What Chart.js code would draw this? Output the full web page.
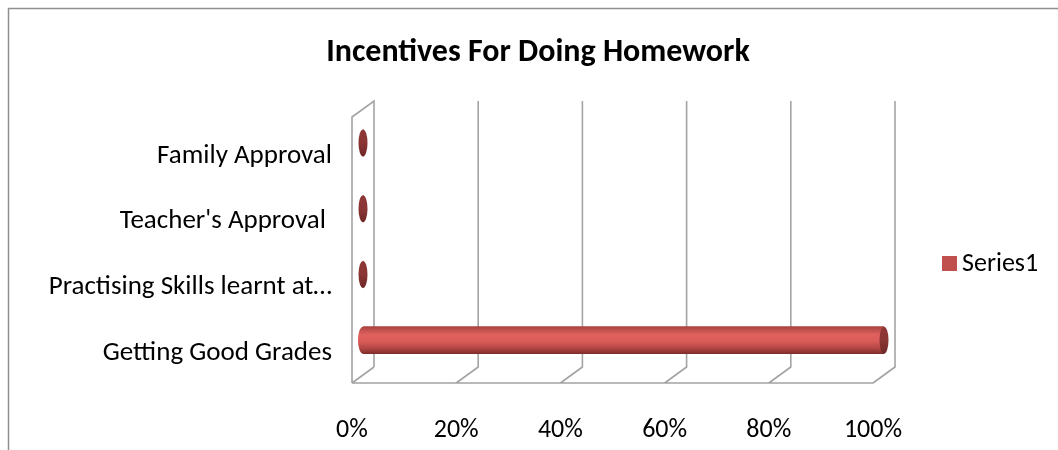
<!DOCTYPE html>
<html>
<head>
<meta charset="utf-8">
<script src="https://cdn.jsdelivr.net/npm/chart.js@4.4.1/dist/chart.umd.min.js"></script>
<style>
  html, body { margin: 0; padding: 0; background: #fff; }
  #wrap { width: 1058px; height: 450px; }
</style>
</head>
<body>
<div id="wrap"><canvas id="myChart"></canvas></div>
<script>
const chartTitle = "Incentives For Doing Homework";
const categories = ["Getting Good Grades", "Practising Skills learnt at…", "Teacher's Approval ", "Family Approval"];
const series1 = [1, 0, 0, 0];
const tickValues = [0, 0.2, 0.4, 0.6, 0.8, 1];

const FONT = "Carlito, Lato, sans-serif";
const lineGrey = "#a3a3a3";
const depth = { dx: 22, dy: -16 };   // back wall offset
const barShift = { dx: 11, dy: -10 }; // bars sit halfway into the depth
const radiusX = 5;

function cylinderFill(ctx, cy, h) {
  const g = ctx.createLinearGradient(0, cy - h / 2, 0, cy + h / 2);
  g.addColorStop(0, "#a9423f");
  g.addColorStop(0.3, "#e0625f");
  g.addColorStop(0.55, "#d95b58");
  g.addColorStop(0.8, "#b24643");
  g.addColorStop(1, "#7f2e2c");
  return g;
}

function capFill(ctx, cy, h) {
  const g = ctx.createLinearGradient(0, cy - h / 2, 0, cy + h / 2);
  g.addColorStop(0, "#8e3836");
  g.addColorStop(0.5, "#8a3635");
  g.addColorStop(1, "#6e2826");
  return g;
}

// frame, title, 3D walls and floor, legend
const walls = {
  id: "walls",
  beforeDraw(chart) {
    const ctx = chart.ctx;
    ctx.save();
    ctx.strokeStyle = "#8f8f8f";
    ctx.lineWidth = 1.5;
    ctx.beginPath();
    ctx.moveTo(8.5, chart.height);
    ctx.lineTo(8.5, 8.5);
    ctx.lineTo(chart.width, 8.5);
    ctx.stroke();

    ctx.fillStyle = "#000";
    ctx.font = "bold 32px " + FONT;
    ctx.textAlign = "center";
    ctx.textBaseline = "middle";
    ctx.fillText(chartTitle, chart.width / 2 + 9, 53);
    ctx.restore();
  },
  beforeDatasetsDraw(chart) {
    const ctx = chart.ctx;
    const { left, top, bottom } = chart.chartArea;
    const x = chart.scales.x;
    const y0 = bottom, yTop = top - 3;
    ctx.save();
    ctx.strokeStyle = lineGrey;
    ctx.lineWidth = 1.6;
    ctx.beginPath();
    // side wall
    ctx.moveTo(left, y0);
    ctx.lineTo(left, yTop);
    ctx.lineTo(left + depth.dx, yTop + depth.dy);
    ctx.lineTo(left + depth.dx, y0 + depth.dy);
    // floor front edge
    ctx.moveTo(x.getPixelForValue(tickValues[0]), y0);
    ctx.lineTo(x.getPixelForValue(tickValues[tickValues.length - 1]), y0);
    tickValues.forEach((v, i) => {
      const px = x.getPixelForValue(v);
      ctx.moveTo(px, y0);
      ctx.lineTo(px + depth.dx, y0 + depth.dy);
      if (i > 0) ctx.lineTo(px + depth.dx, yTop + depth.dy);
    });
    ctx.stroke();
    ctx.restore();

    // left rounded ends of the cylinders, drawn before the bodies
    const meta = chart.getDatasetMeta(0);
    ctx.save();
    ctx.translate(barShift.dx, barShift.dy);
    meta.data.forEach((el, i) => {
      if (series1[i] <= 0) return;
      const p = el.getProps(["x", "y", "base", "height"], true);
      ctx.fillStyle = cylinderFill(ctx, p.y, p.height);
      ctx.beginPath();
      ctx.ellipse(p.base, p.y, radiusX, p.height / 2, 0, 0, Math.PI * 2);
      ctx.fill();
    });
    ctx.restore();

    ctx.save();
    ctx.translate(barShift.dx, barShift.dy);
  },
  afterDatasetsDraw(chart) {
    const ctx = chart.ctx;
    const meta = chart.getDatasetMeta(0);
    meta.data.forEach((el) => {
      const p = el.getProps(["x", "y", "base", "height"], true);
      ctx.fillStyle = capFill(ctx, p.y, p.height);
      ctx.beginPath();
      ctx.ellipse(p.x, p.y, radiusX - 0.5, p.height / 2, 0, 0, Math.PI * 2);
      ctx.fill();
    });
    ctx.restore();
  },
  afterDraw(chart) {
    const ctx = chart.ctx;
    const { right } = chart.chartArea;
    const cy = 264;
    ctx.save();
    ctx.fillStyle = "#c0504d";
    ctx.fillRect(right + 69, cy - 8, 15, 15);
    ctx.fillStyle = "#000";
    ctx.font = "26px " + FONT;
    ctx.textBaseline = "middle";
    ctx.fillText(chart.data.datasets[0].label, right + 89, cy);
    ctx.restore();
  }
};

const ctx = document.getElementById("myChart").getContext("2d");

const myChart = new Chart(ctx, {
  type: "bar",
  data: {
    labels: categories,
    datasets: [
      {
        label: "Series1",
        data: series1,
        barThickness: 27,
        borderWidth: 0,
        backgroundColor: (c) => {
          const ys = c.chart.scales.y;
          const cy = ys ? ys.getPixelForValue(c.dataIndex) : NaN;
          if (!Number.isFinite(cy)) return "#c0504d";
          return cylinderFill(c.chart.ctx, cy, 27);
        },
      },
    ],
  },
  options: {
    indexAxis: "y",
    responsive: true,
    maintainAspectRatio: false,
    animation: false,
    layout: { padding: { top: 120, left: 0, right: 185, bottom: 5 } },
    plugins: {
      legend: { display: false },
      tooltip: { enabled: false },
      title: { display: false },
    },
    scales: {
      x: {
        min: 0,
        max: 1,
        afterBuildTicks: (s) => { s.ticks = tickValues.map((v) => ({ value: v })); },
        afterFit: (s) => { s.height = 62; },
        ticks: {
          color: "#000",
          font: { family: FONT, size: 26 },
          padding: 32,
          maxRotation: 0,
          callback: (v) => Math.round(v * 100) + "%",
        },
        grid: { display: false, drawTicks: false },
        border: { display: false },
      },
      y: {
        reverse: true,
        afterFit: (s) => { s.width = 352; },
        ticks: {
          color: "#000",
          font: { family: FONT, size: 27 },
          padding: 20,
          labelOffset: 3,
        },
        grid: { display: false, drawTicks: false },
        border: { display: false },
      },
    },
  },
  plugins: [walls],
});
</script>
</body>
</html>
